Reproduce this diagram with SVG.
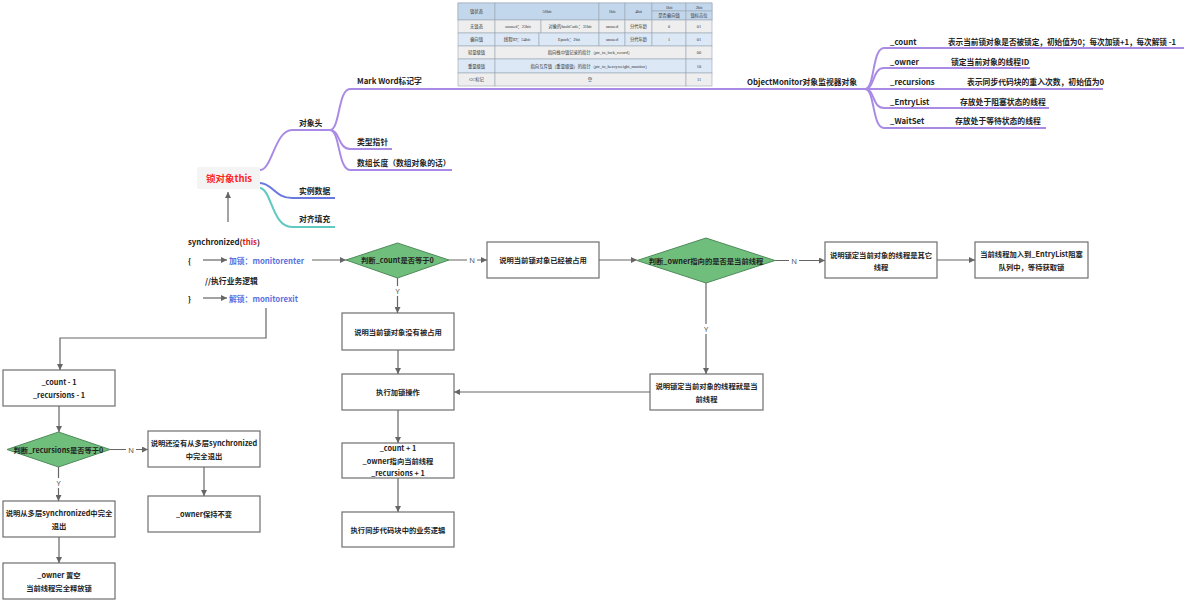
<svg xmlns="http://www.w3.org/2000/svg" width="1184" height="601" viewBox="0 0 1184 601">
<style>
.t{font-family:"Noto Sans CJK SC","Noto Sans",sans-serif;font-weight:bold;font-size:7.3px;fill:#222}
.c{text-anchor:middle;dominant-baseline:central}
.m{font-family:"Noto Sans CJK SC","Noto Sans",sans-serif;font-weight:bold;font-size:7.8px;fill:#222;dominant-baseline:central}
.tb{font-family:"Liberation Serif","Noto Sans CJK SC",serif;font-size:4.3px;fill:#333;text-anchor:middle;dominant-baseline:central}
.box{fill:#fff;stroke:#6e6e6e;stroke-width:1.2}
.dia{fill:#70be7c;stroke:#4f8a5a;stroke-width:1}
.ln{fill:none;stroke:#666;stroke-width:1.2}
.lbl{font-family:"Noto Sans","Liberation Sans",sans-serif;font-size:7.5px;fill:#555;text-anchor:middle;dominant-baseline:central}
.pu{fill:none;stroke:#a98be6;stroke-width:2}
.bl{fill:none;stroke:#6b78e0;stroke-width:2}
.tl{fill:none;stroke:#60c9c0;stroke-width:2}
.cell{stroke:#9aa6b3;stroke-width:0.6}
.hd{fill:#c3d7ec}
.gr{fill:#eeeeee}
.bu{fill:#dce8f5}
</style>
<defs>
<marker id="ah" viewBox="0 0 10 10" refX="10" refY="5" markerWidth="6" markerHeight="6" markerUnits="userSpaceOnUse" orient="auto">
<path d="M0,0 L10,5 L0,10 z" fill="#666"/>
</marker>
</defs>
<rect width="1184" height="601" fill="#fff"/>

<!-- Table -->
<g id="markword-table">
<rect class="cell hd" x="458" y="3" width="254" height="17"/>
<rect class="cell hd" x="458" y="3" width="37" height="17"/>
<rect class="cell hd" x="495" y="3" width="104" height="17"/>
<rect class="cell hd" x="599" y="3" width="26" height="17"/>
<rect class="cell hd" x="625" y="3" width="27" height="17"/>
<rect class="cell hd" x="652" y="3" width="34" height="8"/>
<rect class="cell hd" x="652" y="11" width="34" height="9"/>
<rect class="cell hd" x="686" y="3" width="26" height="8"/>
<rect class="cell hd" x="686" y="11" width="26" height="9"/>
<text class="tb" x="476.5" y="11.5">锁状态</text>
<text class="tb" x="547" y="11.5">56bit</text>
<text class="tb" x="612" y="11.5">1bit</text>
<text class="tb" x="638.5" y="11.5">4bit</text>
<text class="tb" x="669" y="7">1bit</text>
<text class="tb" x="669" y="15.5">是否偏向锁</text>
<text class="tb" x="699" y="7">2bit</text>
<text class="tb" x="699" y="15.5">锁标志位</text>

<rect class="cell gr" x="458" y="20" width="37" height="13"/>
<rect class="cell gr" x="495" y="20" width="46" height="13"/>
<rect class="cell gr" x="541" y="20" width="58" height="13"/>
<rect class="cell gr" x="599" y="20" width="26" height="13"/>
<rect class="cell gr" x="625" y="20" width="27" height="13"/>
<rect class="cell gr" x="652" y="20" width="34" height="13"/>
<rect class="cell gr" x="686" y="20" width="26" height="13"/>
<text class="tb" x="476.5" y="26.5">无锁态</text>
<text class="tb" x="518" y="26.5">unused：25bit</text>
<text class="tb" x="570" y="26.5">对象的hashCode：31bit</text>
<text class="tb" x="612" y="26.5">unused</text>
<text class="tb" x="638.5" y="26.5">分代年龄</text>
<text class="tb" x="669" y="26.5">0</text>
<text class="tb" x="699" y="26.5">01</text>

<rect class="cell bu" x="458" y="33" width="37" height="13"/>
<rect class="cell bu" x="495" y="33" width="44" height="13"/>
<rect class="cell bu" x="539" y="33" width="60" height="13"/>
<rect class="cell bu" x="599" y="33" width="26" height="13"/>
<rect class="cell bu" x="625" y="33" width="27" height="13"/>
<rect class="cell bu" x="652" y="33" width="34" height="13"/>
<rect class="cell bu" x="686" y="33" width="26" height="13"/>
<text class="tb" x="476.5" y="39.5">偏向锁</text>
<text class="tb" x="517" y="39.5">线程ID：54bit</text>
<text class="tb" x="569" y="39.5">Epoch：2bit</text>
<text class="tb" x="612" y="39.5">unused</text>
<text class="tb" x="638.5" y="39.5">分代年龄</text>
<text class="tb" x="669" y="39.5">1</text>
<text class="tb" x="699" y="39.5">01</text>

<rect class="cell gr" x="458" y="46" width="37" height="13"/>
<rect class="cell gr" x="495" y="46" width="191" height="13"/>
<rect class="cell gr" x="686" y="46" width="26" height="13"/>
<text class="tb" x="476.5" y="52.5">轻量级锁</text>
<text class="tb" x="590" y="52.5">指向栈中锁记录的指针（ptr_to_lock_record）</text>
<text class="tb" x="699" y="52.5">00</text>

<rect class="cell bu" x="458" y="59" width="37" height="14"/>
<rect class="cell bu" x="495" y="59" width="191" height="14"/>
<rect class="cell bu" x="686" y="59" width="26" height="14"/>
<text class="tb" x="476.5" y="66">重量级锁</text>
<text class="tb" x="590" y="66">指向互斥锁（重量级锁）的指针（ptr_to_heavyweight_monitor）</text>
<text class="tb" x="699" y="66">10</text>

<rect class="cell gr" x="458" y="73" width="37" height="13"/>
<rect class="cell gr" x="495" y="73" width="191" height="13"/>
<rect class="cell gr" x="686" y="73" width="26" height="13"/>
<text class="tb" x="476.5" y="79.5">GC标记</text>
<text class="tb" x="590" y="79.5">空</text>
<text class="tb" x="699" y="79.5">11</text>
</g>

<!-- Mind map lines -->
<g id="mindmap-lines">
<path class="pu" d="M260,170 C272,170 275,130 292,130 L332,130"/>
<path class="bl" d="M260,183 C272,183 275,198 292,198 L335,198"/>
<path class="tl" d="M260,188 C272,190 272,227 292,227 L335,227"/>
<path class="pu" d="M330,130 C340,130 338,89 350,89 L865,89"/>
<path class="pu" d="M330,130 C340,130 338,149 350,149 L392,149"/>
<path class="pu" d="M330,130 C340,130 338,170 350,170 L452,170"/>
<path class="pu" d="M865,89 C875,89 872,48 884,48 L1184,48"/>
<path class="pu" d="M865,89 C875,89 872,68 884,68 L1030,68"/>
<path class="pu" d="M865,89 L1103,89"/>
<path class="pu" d="M865,89 C875,89 872,108 884,108 L1049,108"/>
<path class="pu" d="M865,89 C875,89 872,128 884,128 L1046,128"/>
</g>

<g id="lock-object">
<rect x="197" y="167" width="63" height="22" fill="#f4f4f4" rx="2"/>
<text x="229" y="178" font-family="'Noto Sans CJK SC',sans-serif" font-weight="bold" font-size="9.5px" fill="#ff1f1f" text-anchor="middle" dominant-baseline="central">锁对象this</text>
</g>
<g id="n-header"><text class="m" x="299" y="122">对象头</text></g>
<g id="n-instance"><text class="m" x="299" y="190">实例数据</text></g>
<g id="n-padding"><text class="m" x="299" y="218">对齐填充</text></g>
<g id="n-markword"><text class="m" x="357" y="80">Mark Word标记字</text></g>
<g id="n-klass"><text class="m" x="357" y="141">类型指针</text></g>
<g id="n-array"><text class="m" x="357" y="162">数组长度（数组对象的话）</text></g>
<g id="n-objmonitor"><text class="m" x="747" y="81">ObjectMonitor对象监视器对象</text></g>
<g id="n-count"><text class="m" x="890" y="41">_count</text><text class="m" x="948" y="41" textLength="228" lengthAdjust="spacingAndGlyphs">表示当前锁对象是否被锁定，初始值为0；每次加锁+1，每次解锁 -1</text></g>
<g id="n-owner"><text class="m" x="890" y="61">_owner</text><text class="m" x="951" y="61">锁定当前对象的线程ID</text></g>
<g id="n-recursions"><text class="m" x="890" y="81">_recursions</text><text class="m" x="967" y="81">表示同步代码块的重入次数，初始值为0</text></g>
<g id="n-entrylist"><text class="m" x="890" y="101">_EntryList</text><text class="m" x="960" y="101">存放处于阻塞状态的线程</text></g>
<g id="n-waitset"><text class="m" x="890" y="120">_WaitSet</text><text class="m" x="955" y="120">存放处于等待状态的线程</text></g>

<!-- code -->
<g id="code">
<text class="m" x="188" y="241">synchronized(<tspan fill="#e02020" style="fill:#e02020">this</tspan>)</text>
<text class="m" x="188" y="260">{</text>
<text class="m" x="229" y="260" style="fill:#5b70e0">加锁：monitorenter</text>
<text class="m" x="205" y="280">//执行业务逻辑</text>
<text class="m" x="188" y="298">}</text>
<text class="m" x="229" y="298" style="fill:#5b70e0">解锁：monitorexit</text>
</g>

<!-- Flow nodes -->
<g id="d-count"><polygon class="dia" points="346,260 397.5,243 449,260 397.5,278"/><text class="t c" x="397.5" y="260">判断_count是否等于0</text></g>
<g id="b-occupied"><rect class="box" x="487" y="242" width="112" height="36"/><text class="t c" x="543" y="260">说明当前锁对象已经被占用</text></g>
<g id="d-owner"><polygon class="dia" points="637,260.5 706,238 775,260.5 706,283"/><text class="t c" x="706" y="260.5">判断_owner指向的是否是当前线程</text></g>
<g id="b-other"><rect class="box" x="825" y="242" width="112" height="36"/><text class="t c" x="881" y="255">说明锁定当前对象的线程是其它</text><text class="t c" x="881" y="267">线程</text></g>
<g id="b-entrylist"><rect class="box" x="975" y="242" width="113" height="36"/><text class="t c" x="1031.5" y="254">当前线程加入到_EntryList阻塞</text><text class="t c" x="1031.5" y="266.5">队列中，等待获取锁</text></g>
<g id="b-free"><rect class="box" x="342" y="313" width="112" height="37"/><text class="t c" x="398" y="331.5">说明当前锁对象没有被占用</text></g>
<g id="b-lock"><rect class="box" x="342" y="374" width="112" height="36"/><text class="t c" x="398" y="392">执行加锁操作</text></g>
<g id="b-same"><rect class="box" x="650" y="374" width="113" height="36"/><text class="t c" x="706.5" y="386">说明锁定当前对象的线程就是当</text><text class="t c" x="706.5" y="398.5">前线程</text></g>
<g id="b-incr"><rect class="box" x="342" y="443" width="112" height="35"/><text class="t c" x="398" y="448">_count + 1</text><text class="t c" x="398" y="460.5">_owner指向当前线程</text><text class="t c" x="398" y="473">_recursions + 1</text></g>
<g id="b-exec"><rect class="box" x="342" y="512" width="112" height="35"/><text class="t c" x="398" y="529.5">执行同步代码块中的业务逻辑</text></g>
<g id="b-decr"><rect class="box" x="3" y="370" width="112" height="36"/><text class="t c" x="59" y="382">_count - 1</text><text class="t c" x="59" y="394.5">_recursions - 1</text></g>
<g id="d-rec"><polygon class="dia" points="7,449.5 58.5,432 110,449.5 58.5,467"/><text class="t c" x="58.5" y="449.5">判断_recursions是否等于0</text></g>
<g id="b-notexit"><rect class="box" x="148" y="431" width="112" height="36"/><text class="t c" x="204" y="442.5">说明还没有从多层synchronized</text><text class="t c" x="204" y="456">中完全退出</text></g>
<g id="b-keep"><rect class="box" x="148" y="496" width="112" height="36"/><text class="t c" x="204" y="514">_owner保持不变</text></g>
<g id="b-exit"><rect class="box" x="3" y="501" width="112" height="36"/><text class="t c" x="59" y="512.5">说明从多层synchronized中完全</text><text class="t c" x="59" y="525.5">退出</text></g>
<g id="b-release"><rect class="box" x="3" y="563" width="112" height="36"/><text class="t c" x="59" y="574.5">_owner 置空</text><text class="t c" x="59" y="588">当前线程完全释放锁</text></g>

<!-- connectors -->
<g id="connectors">
<path class="ln" d="M228,222 V192" marker-end="url(#ah)"/>
<path class="ln" d="M203,260 H227" marker-end="url(#ah)"/>
<path class="ln" d="M203,298 H227" marker-end="url(#ah)"/>
<path class="ln" d="M312,260 H346" marker-end="url(#ah)"/>
<path class="ln" d="M266,308 V338 H60 V370" marker-end="url(#ah)"/>
<path class="ln" d="M449,260 H487" marker-end="url(#ah)"/>
<path class="ln" d="M599,260 H637" marker-end="url(#ah)"/>
<path class="ln" d="M775,260.5 H825" marker-end="url(#ah)"/>
<path class="ln" d="M937,260 H975" marker-end="url(#ah)"/>
<path class="ln" d="M397.5,278 V313" marker-end="url(#ah)"/>
<path class="ln" d="M398,350 V374" marker-end="url(#ah)"/>
<path class="ln" d="M706,283 V374" marker-end="url(#ah)"/>
<path class="ln" d="M650,392 H454" marker-end="url(#ah)"/>
<path class="ln" d="M398,410 V443" marker-end="url(#ah)"/>
<path class="ln" d="M398,478 V512" marker-end="url(#ah)"/>
<path class="ln" d="M59,406 V432" marker-end="url(#ah)"/>
<path class="ln" d="M110,449.5 H148" marker-end="url(#ah)"/>
<path class="ln" d="M204,467 V496" marker-end="url(#ah)"/>
<path class="ln" d="M58.5,467 V501" marker-end="url(#ah)"/>
<path class="ln" d="M59,537 V563" marker-end="url(#ah)"/>
<rect x="467" y="255" width="10" height="10" fill="#fff"/><text class="lbl" x="472" y="260">N</text>
<rect x="789" y="255.5" width="10" height="10" fill="#fff"/><text class="lbl" x="794" y="260.5">N</text>
<rect x="126" y="444.5" width="10" height="10" fill="#fff"/><text class="lbl" x="131" y="449.5">N</text>
<rect x="392.5" y="286" width="10" height="10" fill="#fff"/><text class="lbl" x="397.5" y="291">Y</text>
<rect x="701" y="324" width="10" height="10" fill="#fff"/><text class="lbl" x="706" y="329">Y</text>
<rect x="53.5" y="478" width="10" height="10" fill="#fff"/><text class="lbl" x="58.5" y="483">Y</text>
</g>
</svg>
